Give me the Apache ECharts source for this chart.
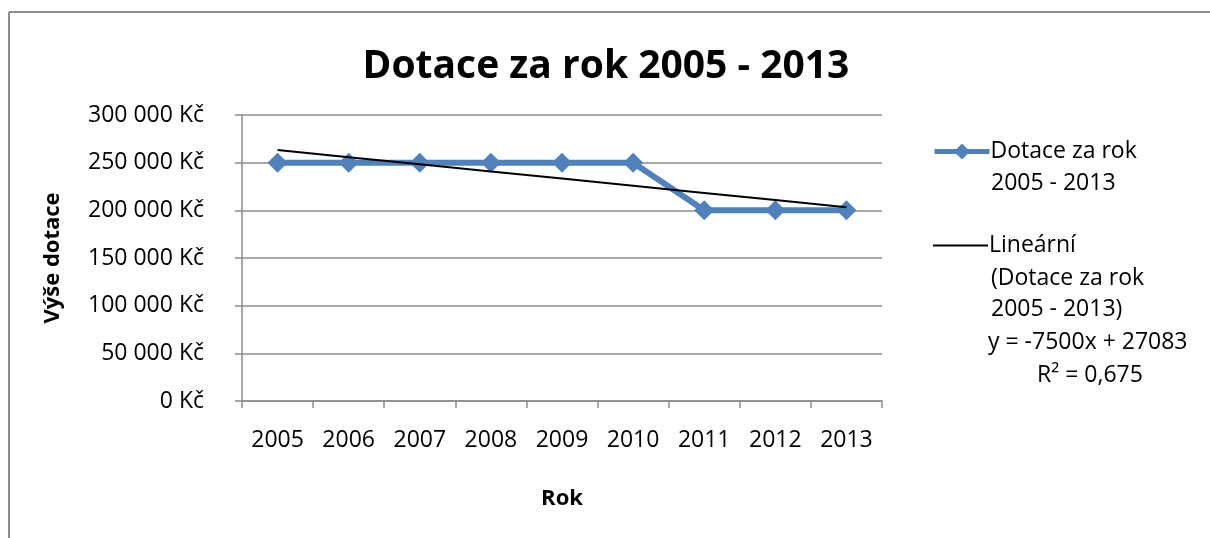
<!DOCTYPE html>
<html>
<head>
<meta charset="utf-8">
<script src="https://cdn.jsdelivr.net/npm/echarts@6/dist/echarts.min.js"></script>
<style>
  html, body { margin: 0; padding: 0; background: #fff; }
  #main { width: 1210px; height: 538px; }
</style>
</head>
<body>
<div id="main"></div>
<script>
var chartDom = document.getElementById("main");
var myChart = echarts.init(chartDom);
var option;

const years = ["2005", "2006", "2007", "2008", "2009", "2010", "2011", "2012", "2013"];
const dotace = [250000, 250000, 250000, 250000, 250000, 250000, 200000, 200000, 200000];
// linear trend (from ~263 300 down to ~203 300)
const trend = [263300, 255800, 248300, 240800, 233300, 225800, 218300, 210800, 203300];
const yTicks = [0, 50000, 100000, 150000, 200000, 250000, 300000];

const seriesName = "Dotace za rok 2005 - 2013";
const trendName = "Lineární (Dotace za rok 2005 - 2013)";
const font = "Open Sans";
const fs = 23;
const gray = "#8c8c8c";

function kc(v) {
  return String(v).replace(/\B(?=(\d{3})+(?!\d))/g, " ") + " Kč";
}

// extra legend lines, drawn as plain text
function legendLine(text, x, y) {
  return {
    type: "text",
    x: x,
    y: y,
    style: { text: text, font: fs + "px 'Open Sans'", fill: "#000", verticalAlign: "middle" },
  };
}

option = {
  animation: false,
  title: {
    text: "Dotace za rok 2005 - 2013",
    left: 601,
    textAlign: "center",
    top: 42,
    textStyle: { fontFamily: font, fontSize: 39, fontWeight: "bold", color: "#000" },
  },
  legend: [
    {
      data: [seriesName],
      left: 932,
      top: 140,
      padding: 0,
      itemWidth: 55,
      itemHeight: 20,
      lineStyle: { width: 5 },
      formatter: function () { return "Dotace za rok"; },
      textStyle: { fontFamily: font, fontSize: fs, color: "#000", padding: [0, 0, 0, -4] },
    },
    {
      data: [trendName],
      left: 932,
      top: 234,
      padding: 0,
      itemWidth: 55,
      itemHeight: 20,
      lineStyle: { width: 2 },
      itemStyle: { color: "transparent", borderWidth: 0 },
      formatter: function () { return "Lineární"; },
      textStyle: { fontFamily: font, fontSize: fs, color: "#000", padding: [0, 0, 0, -4] },
    },
  ],
  graphic: [
    { type: "line", shape: { x1: 9, y1: 12, x2: 1210, y2: 12 }, style: { stroke: gray, lineWidth: 2 } },
    { type: "line", shape: { x1: 9, y1: 12, x2: 9, y2: 538 }, style: { stroke: gray, lineWidth: 2 } },
    legendLine("2005 - 2013", 991, 183),
    legendLine("(Dotace za rok", 991, 278),
    legendLine("2005 - 2013)", 991, 309),
    legendLine("y = -7500x + 27083", 988, 342),
    legendLine("R² = 0,675", 1037, 375),
  ],
  grid: { left: 242, right: 328, top: 115, bottom: 137 },
  xAxis: {
    type: "category",
    data: years,
    boundaryGap: true,
    name: "Rok",
    nameLocation: "middle",
    nameGap: 87,
    nameTextStyle: { fontFamily: font, fontSize: 22, fontWeight: "bold", color: "#000" },
    axisLine: { lineStyle: { color: gray, width: 1.5 } },
    axisTick: { show: true, length: 7, lineStyle: { color: gray, width: 1.5 } },
    axisLabel: { fontFamily: font, fontSize: fs, color: "#000", margin: 28 },
  },
  yAxis: {
    type: "value",
    min: yTicks[0],
    max: yTicks[yTicks.length - 1],
    interval: yTicks[1] - yTicks[0],
    name: "Výše dotace",
    nameLocation: "middle",
    nameGap: 178,
    nameTextStyle: { fontFamily: font, fontSize: 22, fontWeight: "bold", color: "#000" },
    axisLine: { show: true, lineStyle: { color: gray, width: 1.5 } },
    axisTick: { show: true, length: 7, lineStyle: { color: gray, width: 1.5 } },
    splitLine: { lineStyle: { color: gray, width: 1.5 } },
    axisLabel: { fontFamily: font, fontSize: fs, color: "#000", margin: 38, formatter: kc },
  },
  series: [
    {
      name: seriesName,
      type: "line",
      data: dotace,
      symbol: "diamond",
      symbolSize: 20,
      itemStyle: { color: "#4f81bd" },
      lineStyle: { color: "#4f81bd", width: 6 },
      z: 2,
    },
    {
      name: trendName,
      type: "line",
      data: trend,
      symbol: "none",
      itemStyle: { color: "#000" },
      lineStyle: { color: "#000", width: 2 },
      z: 3,
    },
  ],
};

option && myChart.setOption(option);
</script>
</body>
</html>
